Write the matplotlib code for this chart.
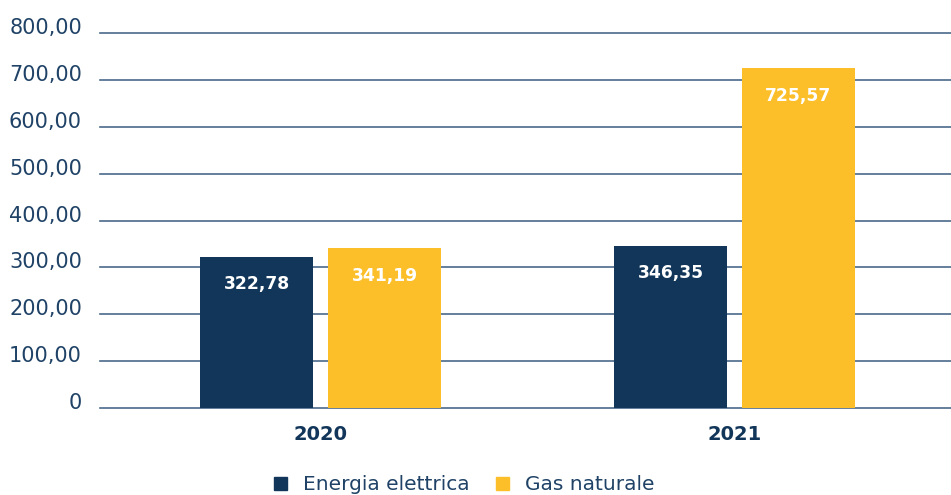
import matplotlib.pyplot as plt
import numpy as np
from matplotlib.patches import Patch
from matplotlib.transforms import ScaledTranslation

anni = ["2020", "2021"]
energia_elettrica = [322.78, 346.35]
gas_naturale = [341.19, 725.57]
tick_valori = [0, 100, 200, 300, 400, 500, 600, 700, 800]
tick_testi = ["0", "100,00", "200,00", "300,00", "400,00", "500,00", "600,00", "700,00", "800,00"]

NAVY = "#11365a"
GIALLO = "#fcbf29"
GRIGLIA = "#4a6a8a"
TESTO = "#1f4266"

fig = plt.figure(figsize=(9.51, 4.95), dpi=100)
ax = fig.add_axes([100 / 951, 87 / 495, 851 / 951, 375 / 495])

x = np.arange(len(anni))
w = 0.273
off = 0.1546
b1 = ax.bar(x - off, energia_elettrica, w, color=NAVY, zorder=3)
b2 = ax.bar(x + off, gas_naturale, w, color=GIALLO, zorder=3)

def fmt(v):
    return f"{v:.2f}".replace(".", ",")

for bars, vals in ((b1, energia_elettrica), (b2, gas_naturale)):
    for r, v in zip(bars, vals):
        ax.annotate(fmt(v), (r.get_x() + r.get_width() / 2, v), xytext=(0, -20),
                    textcoords="offset points", ha="center", va="center",
                    color="white", fontsize=12.3, fontweight="bold", zorder=4)

ax.set_ylim(0, 800)
ax.set_xlim(-0.5326, 1.523)
ax.set_yticks(tick_valori)
ax.set_yticklabels(tick_testi, fontsize=15, color=TESTO)
ax.tick_params(axis="y", length=0, pad=13)
sposta = ScaledTranslation(0, 7 / 100, fig.dpi_scale_trans)
for lab in ax.get_yticklabels():
    lab.set_transform(lab.get_transform() + sposta)

ax.set_xticks(x)
ax.set_xticklabels(anni, fontsize=14, fontweight="bold", color=NAVY)
ax.tick_params(axis="x", length=0, pad=12)

ax.grid(axis="y", color=GRIGLIA, linewidth=1.2, zorder=0)
for g in ax.get_ygridlines():
    g.set_clip_on(False)
for s in ax.spines.values():
    s.set_visible(False)

maniglie = [Patch(color=NAVY, label="Energia elettrica"),
            Patch(color=GIALLO, label="Gas naturale")]
fig.legend(handles=maniglie, loc="center", bbox_to_anchor=(0.488, 10 / 495), ncol=2,
           frameon=False, fontsize=14.5, labelcolor=TESTO, handlelength=0.65,
           handleheight=0.65, handletextpad=0.8, columnspacing=1.3)

fig.savefig("out.png", dpi=100)
